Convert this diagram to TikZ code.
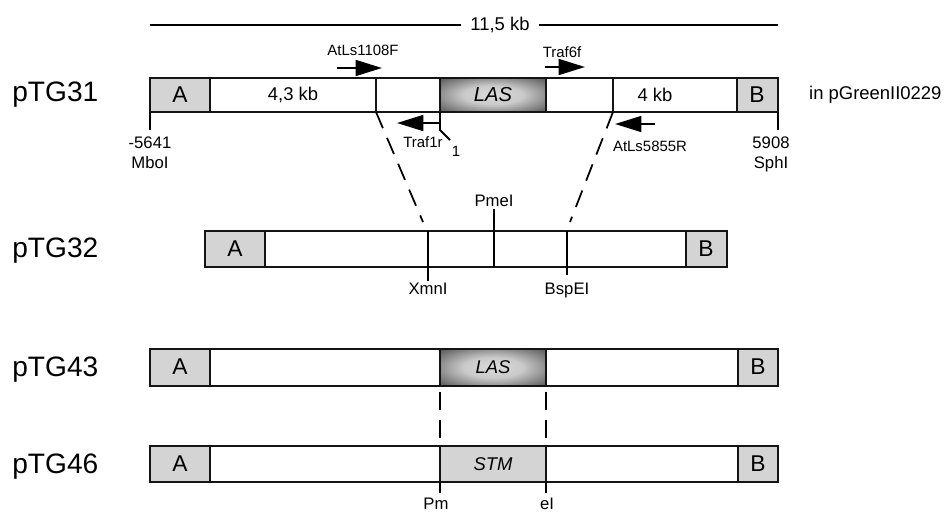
\documentclass[tikz,border=0pt]{standalone}
\usepackage{fontspec}
\setmainfont{Liberation Sans}
\usepackage{tikz}
\usetikzlibrary{arrows.meta,positioning,calc}
\definecolor{grisboite}{RGB}{212,212,212}
\definecolor{gristrait}{RGB}{20,20,20}
\pgfdeclareradialshading{ombrelas}{\pgfpoint{0bp}{0bp}}{%
  color(0bp)=(gray!28); color(14bp)=(gray!42); color(46bp)=(black!88); color(72bp)=(black!95)}

\begin{document}
\begin{tikzpicture}[x=0.02cm,y=-0.02cm,
    boite/.style={draw=gristrait,line width=1.1pt},
    boitegris/.style={boite,fill=grisboite},
    boitelas/.style={boite,shading=ombrelas},
    nomplas/.style={font=\fontsize{16}{18}\selectfont,anchor=base west,inner sep=0pt},
    lettre/.style={font=\fontsize{13}{15}\selectfont},
    taille/.style={font=\fontsize{10.5}{12}\selectfont},
    gene/.style={font=\fontsize{11.5}{13}\selectfont\itshape},
    amorce/.style={font=\fontsize{8.5}{10}\selectfont,inner sep=1pt},
    site/.style={font=\fontsize{9.5}{11.3}\selectfont,align=center,inner sep=1pt},
    fleche/.style={-{Triangle[length=15pt,width=9pt]},line width=1.3pt},
    trait/.style={line width=1.1pt},
    pointille/.style={line width=1pt,dash pattern=on 10pt off 6pt}]
  \useasboundingbox (0,0) rectangle (946,511);

  % echelle
  \coordinate (eg) at (150,25);
  \coordinate (ed) at (778,25);
  \node[taille,inner sep=5pt] (echelle) at (500,25) {11,5 kb};
  \draw[line width=0.8pt] (eg) -- (echelle.west);
  \draw[line width=0.8pt] (echelle.east) -- (ed);

  % pTG31
  \node[nomplas] (p31) at (12,101) {pTG31};
  \draw[boitegris] (150,78) rectangle (210,112);
  \draw[boite] (210,78) rectangle (376,112);
  \draw[boite] (376,78) rectangle (440,112);
  \draw[boitelas] (440,78) rectangle (546,112);
  \draw[boite] (546,78) rectangle (613,112);
  \draw[boite] (613,78) rectangle (737,112);
  \draw[boitegris] (737,78) rectangle (778,112);
  \node[lettre] (a31) at (180,95) {A};
  \node[taille] (k43) at (293,95) {4,3 kb};
  \node[gene] (las31) at (493,95) {LAS};
  \node[taille] (k4) at (655,95) {4 kb};
  \node[lettre] (b31) at (757,95) {B};
  \node[taille,anchor=west] (vect) at (803,95) {in pGreenII0229};
  \coordinate (g31) at (150,112);
  \coordinate (d31) at (778,112);
  \draw[trait] (g31) -- ++(0,18);
  \draw[trait] (d31) -- ++(0,18);
  \node[site,anchor=north] (mbo) at (150,135) {-5641\\MboI};
  \node[site,anchor=north] (sph) at (771,135) {5908\\SphI};

  % amorces
  \node[amorce] (f1108) at (363,50) {AtLs1108F};
  \draw[fleche] (337,68) -- (382,68);
  \node[amorce] (f6) at (562,52) {Traf6f};
  \draw[fleche] (545,67) -- (585,67);
  \coordinate (t1) at (440,112);
  \draw[trait] (t1) -- (440,130) -- (450,140);
  \draw[fleche] (440,123) -- (397,123);
  \node[amorce] (r1) at (423,142) {Traf1r};
  \node[amorce] (un) at (456,151) {1};
  \draw[fleche] (655,124) -- (615,124);
  \node[amorce] (r5855) at (650,146) {AtLs5855R};

  % pTG32
  \node[nomplas] (p32) at (12,257) {pTG32};
  \draw[boitegris] (205,231) rectangle (265,267);
  \draw[boite] (265,231) rectangle (686,267);
  \draw[boitegris] (686,231) rectangle (727,267);
  \node[lettre] (a32) at (235,249) {A};
  \node[lettre] (b32) at (706,249) {B};
  \coordinate (xmn) at (428,281);
  \coordinate (pme) at (494,209);
  \coordinate (bsp) at (567,275);
  \draw[trait] (428,231) -- (xmn);
  \draw[trait] (494,267) -- (pme);
  \draw[trait] (567,231) -- (bsp);
  \node[site,anchor=south] (lpme) at (pme) {PmeI};
  \node[site,anchor=north] (lxmn) at (xmn) {XmnI};
  \node[site,anchor=north] (lbsp) at ($(bsp)+(0,6)$) {BspEI};
  \coordinate (c1) at (376,112);
  \coordinate (c2) at (613,112);
  \draw[pointille] (c1) -- (423,222);
  \draw[pointille] (c2) -- (570,222);

  % pTG43
  \node[nomplas] (p43) at (12,376) {pTG43};
  \draw[boitegris] (150,349) rectangle (210,386);
  \draw[boite] (210,349) rectangle (440,386);
  \draw[boitelas] (440,349) rectangle (546,386);
  \draw[boite] (546,349) rectangle (738,386);
  \draw[boitegris] (738,349) rectangle (778,386);
  \node[lettre] (a43) at (180,367) {A};
  \node[gene,font=\fontsize{10.5}{12}\selectfont\itshape] (las43) at (493,367) {LAS};
  \node[lettre] (b43) at (758,367) {B};

  % pTG46
  \node[nomplas] (p46) at (12,473) {pTG46};
  \draw[boitegris] (150,446) rectangle (210,482);
  \draw[boite] (210,446) rectangle (440,482);
  \draw[boitegris] (440,446) rectangle (546,482);
  \draw[boite] (546,446) rectangle (738,482);
  \draw[boitegris] (738,446) rectangle (778,482);
  \node[lettre] (a46) at (180,464) {A};
  \node[gene,font=\fontsize{10.5}{12}\selectfont\itshape] (stm) at (493,464) {STM};
  \node[lettre] (b46) at (758,464) {B};
  \draw[pointille] (440,392) -- (440,446);
  \draw[pointille] (546,392) -- (546,446);
  \draw[trait] (440,482) -- (440,493);
  \draw[trait] (546,482) -- (546,493);
  \node[site,anchor=north] (pm) at (436,496) {Pm};
  \node[site,anchor=north] (ei) at (547,496) {eI};
\end{tikzpicture}
\end{document}
